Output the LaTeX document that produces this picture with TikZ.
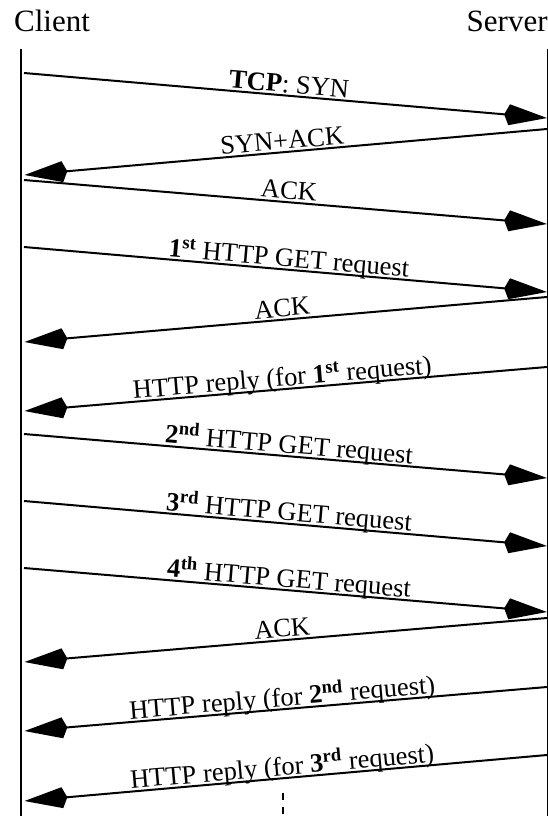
\documentclass[tikz,border=0pt]{standalone}
\usepackage{fontspec}
\setmainfont{Liberation Serif}
\usetikzlibrary{arrows.meta}
\tikzset{
  msg/.style={line width=2pt, -{Kite[length=43pt,width=21pt,inset=5pt]}},
  lbl/.style={pos=0.505, sloped, anchor=base, inner sep=0pt, yshift=3pt, font=\fontsize{26.5}{30}\selectfont},
  hdr/.style={inner sep=0pt, font=\fontsize{31}{36}\selectfont},
  lifeline/.style={line width=2pt},
  lifelinethin/.style={line width=1pt},
}
\begin{document}
\begin{tikzpicture}[x=1pt,y=-1pt]
\useasboundingbox (0,0) rectangle (548,816);
% headers
\node[hdr, anchor=base west] (client) at (14,32) {Client};
\node[hdr, anchor=base east] (server) at (547.8,32) {Server};
% lifelines
\coordinate (ctop) at (20.7,49);
\coordinate (cbot) at (20.7,816);
\coordinate (stop) at (547.3,49);
\coordinate (sbot) at (547.3,816);
\draw[lifeline] (ctop) -- (cbot);
\draw[lifelinethin] (stop) -- (sbot);
% message end points
\coordinate (c1) at (24,73);   \coordinate (s1) at (547,118);
\coordinate (s2) at (547,129); \coordinate (c2) at (24.5,175);
\coordinate (c3) at (24,180);  \coordinate (s3) at (547,224);
\coordinate (c4) at (24,247);  \coordinate (s4) at (547,292);
\coordinate (s5) at (547,297); \coordinate (c5) at (24.5,342);
\coordinate (s6) at (547,367); \coordinate (c6) at (24.5,411);
\coordinate (c7) at (24,434);  \coordinate (s7) at (547,478);
\coordinate (c8) at (24,501);  \coordinate (s8) at (547,546);
\coordinate (c9) at (24,568);  \coordinate (s9) at (547,612);
\coordinate (s10) at (547,618); \coordinate (c10) at (24.5,662);
\coordinate (s11) at (547,687); \coordinate (c11) at (24.5,731);
\coordinate (s12) at (547,755); \coordinate (c12) at (24.5,801);
% messages
\draw[msg] (c1) -- (s1) node[lbl] (l1) {\textbf{TCP}: SYN};
\draw[msg] (s2) -- (c2) node[lbl] (l2) {SYN+ACK};
\draw[msg] (c3) -- (s3) node[lbl] (l3) {ACK};
\draw[msg] (c4) -- (s4) node[lbl] (l4) {\textbf{1\textsuperscript{st}} HTTP GET request};
\draw[msg] (s5) -- (c5) node[lbl] (l5) {ACK};
\draw[msg] (s6) -- (c6) node[lbl] (l6) {HTTP reply (for \textbf{1\textsuperscript{st}} request)};
\draw[msg] (c7) -- (s7) node[lbl] (l7) {\textbf{2\textsuperscript{nd}} HTTP GET request};
\draw[msg] (c8) -- (s8) node[lbl] (l8) {\textbf{3\textsuperscript{rd}} HTTP GET request};
\draw[msg] (c9) -- (s9) node[lbl] (l9) {\textbf{4\textsuperscript{th}} HTTP GET request};
\draw[msg] (s10) -- (c10) node[lbl] (l10) {ACK};
\draw[msg] (s11) -- (c11) node[lbl] (l11) {HTTP reply (for \textbf{2\textsuperscript{nd}} request)};
\draw[msg] (s12) -- (c12) node[lbl] (l12) {HTTP reply (for \textbf{3\textsuperscript{rd}} request)};
% continuation
\coordinate (dtop) at (283.3,793);
\coordinate (dbot) at (283.3,816);
\draw[line width=2pt, dash pattern=on 7pt off 7pt] (dtop) -- (dbot);
\end{tikzpicture}
\end{document}
